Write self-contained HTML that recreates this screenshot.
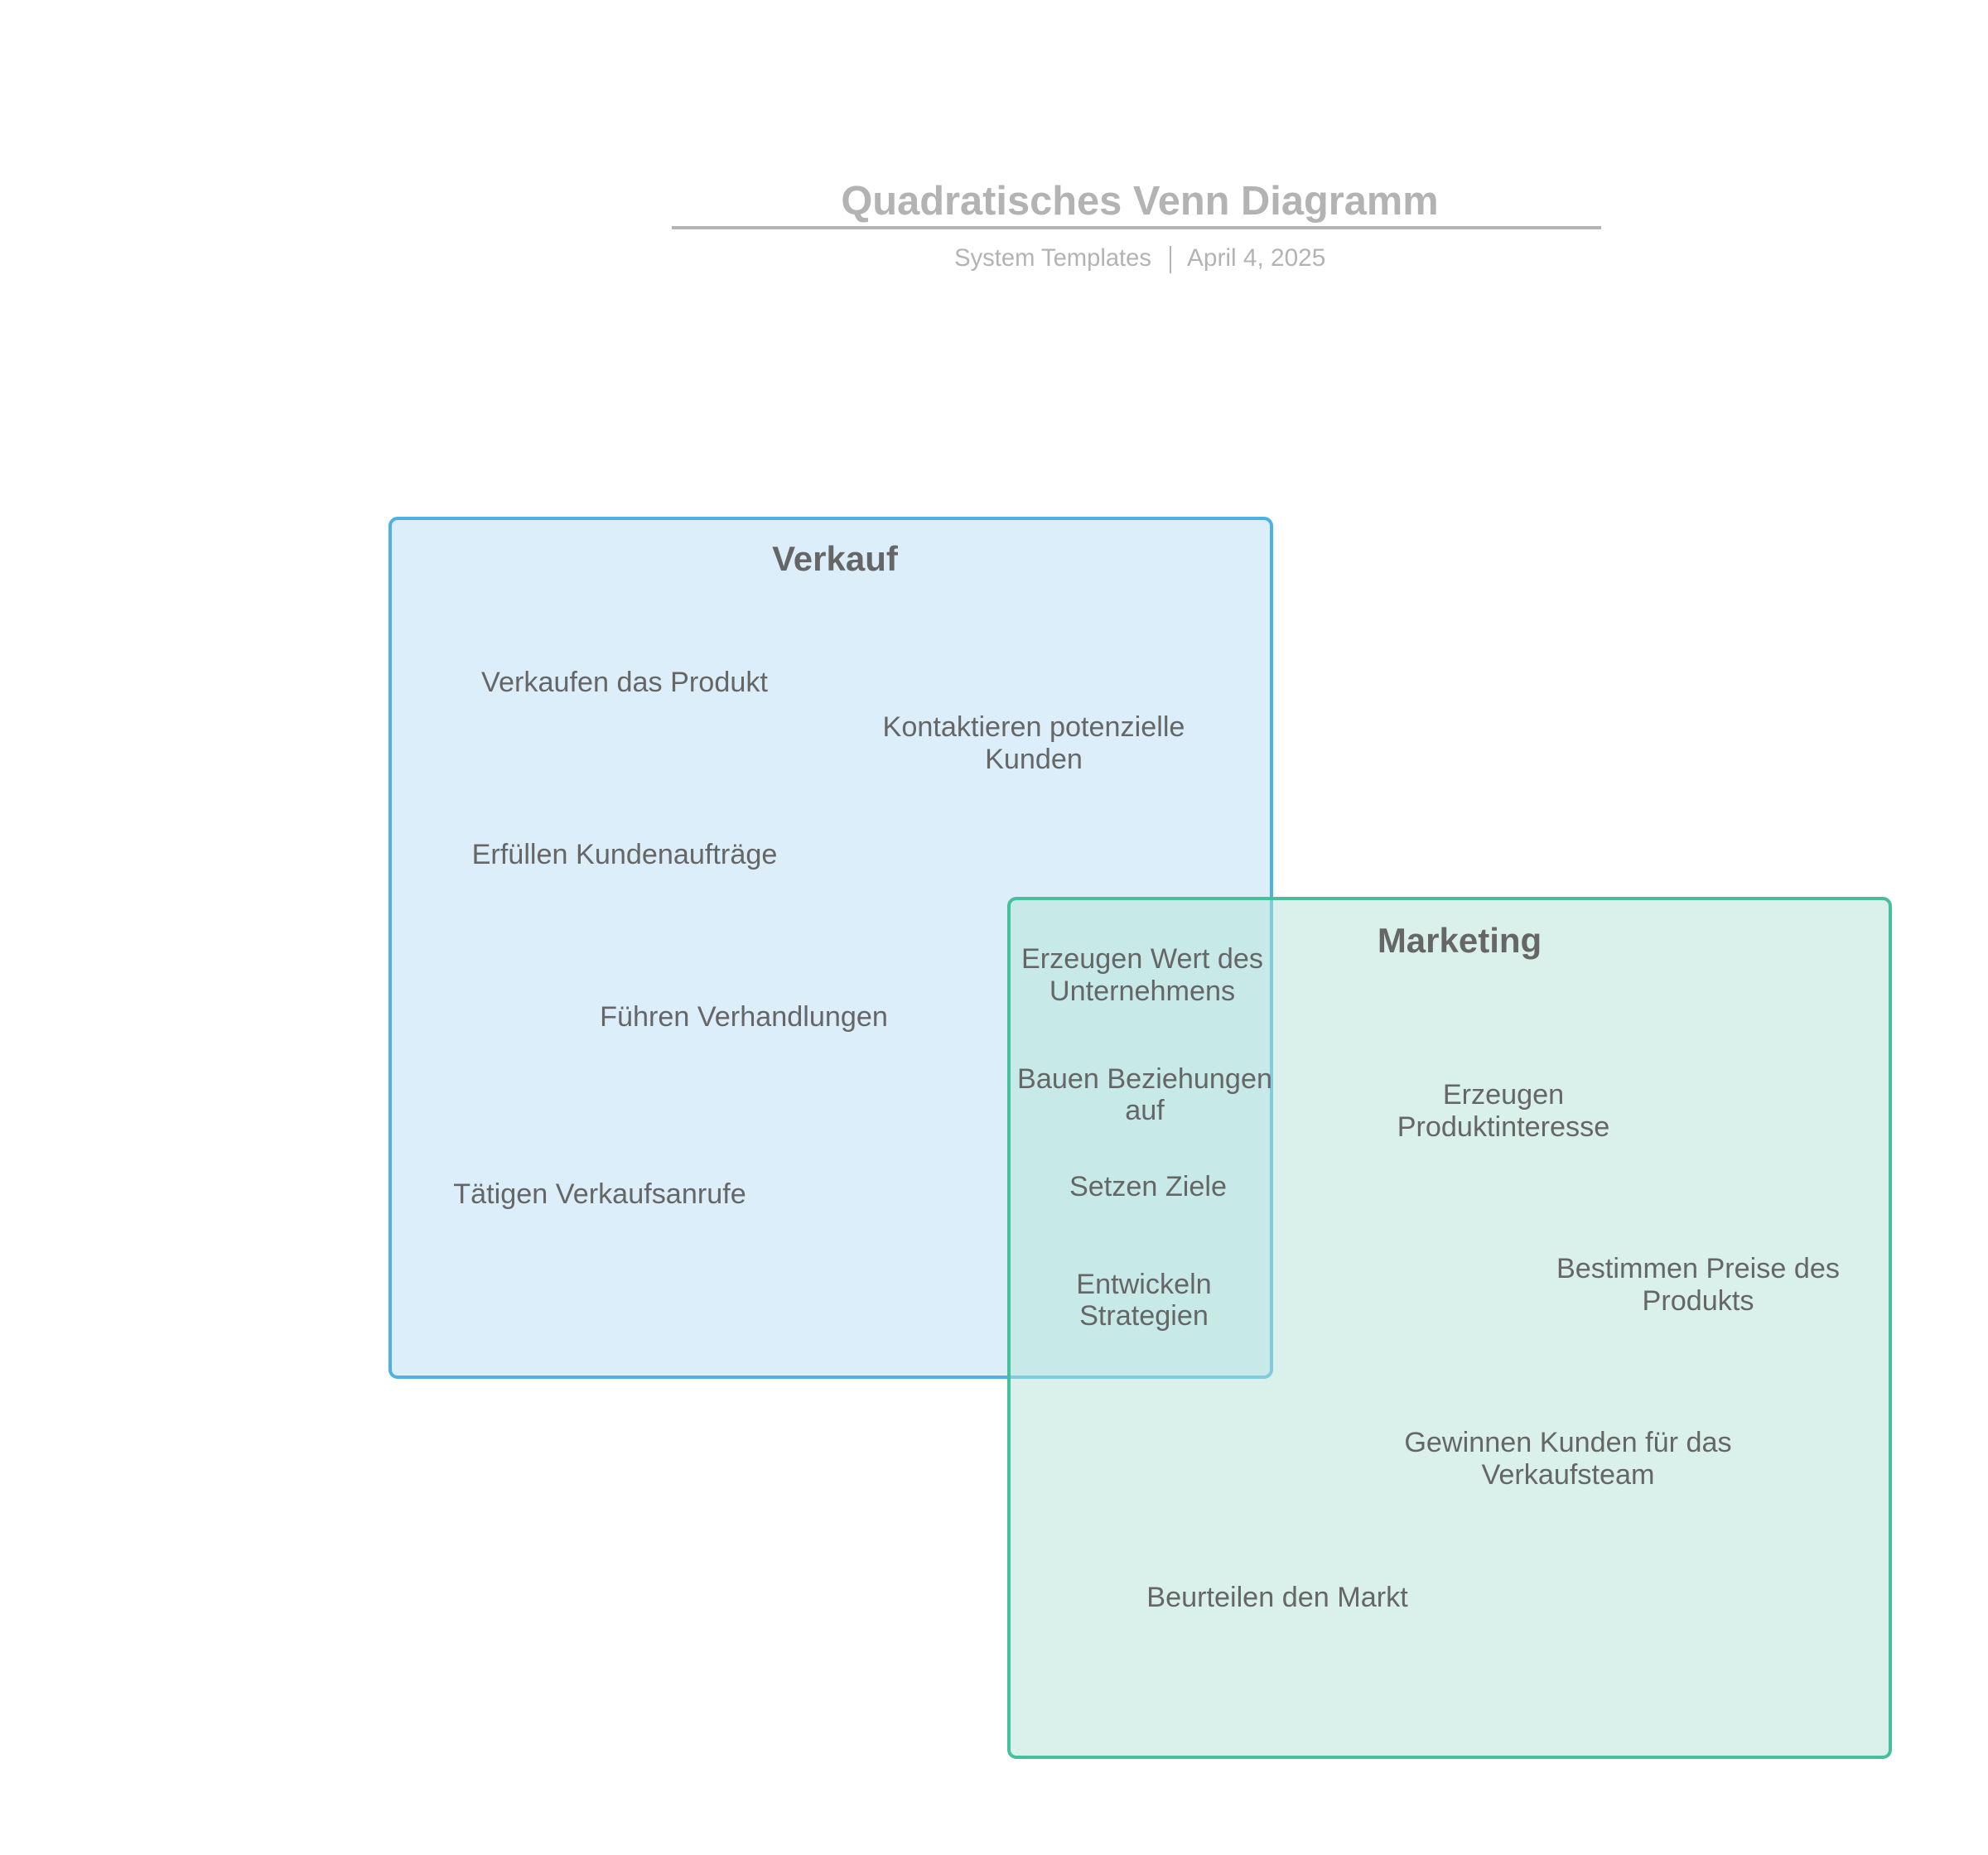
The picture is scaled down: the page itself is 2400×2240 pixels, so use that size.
<!DOCTYPE html>
<html>
<head>
<meta charset="utf-8">
<style>
  html, body { margin:0; padding:0; background:#ffffff; }
  body { width:2400px; height:2240px; overflow:hidden; }
  svg { display:block; }
  text { font-family: "Liberation Sans", Arial, sans-serif; }
  .lbl { font-size:34.2px; fill:#666666; }
  .hd { font-size:42px; font-weight:bold; fill:#666666; }
</style>
</head>
<body>
<svg width="2400" height="2240" viewBox="0 0 2400 2240" xmlns="http://www.w3.org/2000/svg">
  <rect x="0" y="0" width="2400" height="2240" fill="#ffffff"/>

  <!-- Title -->
  <text x="1376" y="259" text-anchor="middle" style="font-size:48.8px;font-weight:bold;fill:#b3b3b3;">Quadratisches Venn Diagramm</text>
  <rect x="811" y="273" width="1122" height="4" fill="#b3b3b3"/>
  <text x="1390" y="321" text-anchor="end" style="font-size:29.2px;fill:#b3b3b3;">System Templates</text>
  <rect x="1412" y="297" width="2" height="33" fill="#b3b3b3"/>
  <text x="1433" y="321" text-anchor="start" style="font-size:29.8px;fill:#b3b3b3;">April 4, 2025</text>

  <!-- Verkauf box -->
  <rect x="471" y="626" width="1064" height="1037" rx="9" ry="9" fill="#dbeef9" stroke="#4cb2e6" stroke-width="4"/>
  <!-- Marketing box (semi-transparent fill on top) -->
  <rect x="1218" y="1085" width="1064" height="1037" rx="9" ry="9" fill="rgba(179,227,213,0.5)" stroke="#45bf9c" stroke-width="4"/>

  <!-- Headings -->
  <text class="hd" x="1008" y="689" text-anchor="middle">Verkauf</text>
  <text class="hd" x="1762" y="1150" text-anchor="middle">Marketing</text>

  <!-- Verkauf labels -->
  <text class="lbl" x="754" y="835" text-anchor="middle">Verkaufen das Produkt</text>
  <text class="lbl" x="1248" y="889" text-anchor="middle">Kontaktieren potenzielle</text>
  <text class="lbl" x="1248" y="928" text-anchor="middle">Kunden</text>
  <text class="lbl" x="754" y="1043" text-anchor="middle">Erfüllen Kundenaufträge</text>
  <text class="lbl" x="898" y="1239" text-anchor="middle">Führen Verhandlungen</text>
  <text class="lbl" x="724" y="1453" text-anchor="middle">Tätigen Verkaufsanrufe</text>

  <!-- Overlap labels -->
  <text class="lbl" x="1379" y="1169" text-anchor="middle">Erzeugen Wert des</text>
  <text class="lbl" x="1379" y="1208" text-anchor="middle">Unternehmens</text>
  <text class="lbl" x="1382" y="1314" text-anchor="middle">Bauen Beziehungen</text>
  <text class="lbl" x="1382" y="1352" text-anchor="middle">auf</text>
  <text class="lbl" x="1386" y="1444" text-anchor="middle">Setzen Ziele</text>
  <text class="lbl" x="1381" y="1562" text-anchor="middle">Entwickeln</text>
  <text class="lbl" x="1381" y="1600" text-anchor="middle">Strategien</text>

  <!-- Marketing labels -->
  <text class="lbl" x="1815" y="1333" text-anchor="middle">Erzeugen</text>
  <text class="lbl" x="1815" y="1372" text-anchor="middle">Produktinteresse</text>
  <text class="lbl" x="2050" y="1543" text-anchor="middle">Bestimmen Preise des</text>
  <text class="lbl" x="2050" y="1582" text-anchor="middle">Produkts</text>
  <text class="lbl" x="1893" y="1753" text-anchor="middle">Gewinnen Kunden für das</text>
  <text class="lbl" x="1893" y="1792" text-anchor="middle">Verkaufsteam</text>
  <text class="lbl" x="1542" y="1940" text-anchor="middle">Beurteilen den Markt</text>
</svg>
</body>
</html>
